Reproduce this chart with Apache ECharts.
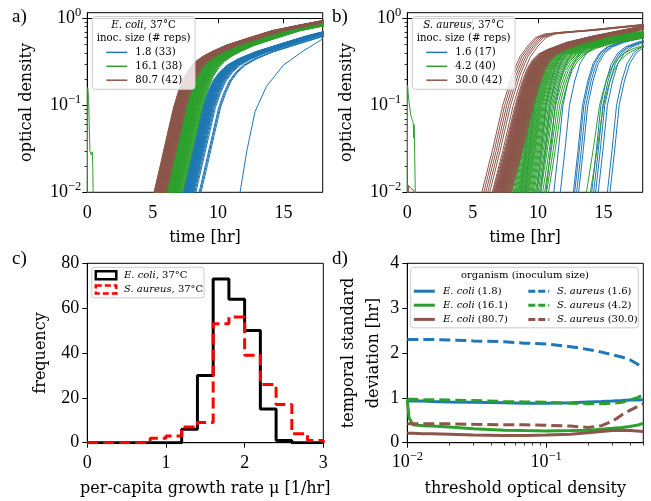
<!DOCTYPE html>
<html><head><meta charset="utf-8">
<script src="https://cdn.jsdelivr.net/npm/echarts@6/dist/echarts.min.js"></script>
<style>html,body{margin:0;padding:0;background:#fff}#c{width:651px;height:501px}</style>
</head><body><div id="c"></div><script>
// ================= DATA =================
const timeTicks = [0, 5, 10, 15];
const odMajorTicks = [0.01, 0.1, 1];
const odMinorTicks = [0.02,0.03,0.04,0.05,0.06,0.07,0.08,0.09,0.2,0.3,0.4,0.5,0.6,0.7,0.8,0.9];
const thrMajorTicks = [0.01, 0.1];
const thrMinorTicks = [0.02,0.03,0.04,0.05,0.06,0.07,0.08,0.09,0.2,0.3,0.4,0.5];

// Panel a: E. coli growth curves. Start times (hr at which OD crosses 0.01) read per curve,
// and the curve shapes (hours after start, OD).
const ecoliShapeDt = [-0.46, 0, 0.5, 1.0, 1.5, 1.9, 2.3, 2.75, 3.2, 3.8, 4.5, 5.5, 7.0, 9.0, 11.0, 13.0];
const ecoliShapeOd = [0.005, 0.01, 0.021, 0.045, 0.095, 0.15, 0.21, 0.27, 0.32, 0.37, 0.42, 0.49, 0.58, 0.72, 0.83, 0.95];
const ecoliLowDt = [-0.46, 0, 0.5, 1.0, 1.5, 1.9, 2.3, 2.8, 3.4, 4.2, 5.5, 7.5, 9.5, 11.5];
const ecoliLowOd = [0.005, 0.01, 0.021, 0.045, 0.095, 0.14, 0.19, 0.24, 0.29, 0.34, 0.41, 0.51, 0.63, 0.75];
const ecoliLowStarts = [7.30,7.34,7.38,7.42,7.45,7.48,7.50,7.53,7.56,7.58,7.60,7.63,7.66,7.68,7.70,7.73,7.76,7.80,7.83,7.86,7.90,7.94,7.98,8.02,8.06,8.10,8.15,8.22,8.30,8.55,8.62,8.70];
const ecoliLowOutlier = [[11.2,0.005],[11.68,0.01],[12.2,0.03],[12.83,0.085],[13.7,0.165],[15.0,0.29],[16.5,0.42],[18.0,0.58]];
const ecoliMidStarts = [6.00,6.04,6.08,6.11,6.14,6.17,6.20,6.23,6.26,6.29,6.32,6.35,6.38,6.41,6.44,6.47,6.50,6.53,6.56,6.59,6.62,6.65,6.68,6.71,6.74,6.77,6.80,6.84,6.88,6.92,6.96,7.00,7.04,7.08,7.12,7.18,7.24,7.30];
const ecoliMidSpike = [[0,0.005],[0.03,0.16],[0.1,0.12],[0.15,0.06],[0.2,0.03],[0.3,0.027],[0.38,0.029],[0.42,0.02],[0.47,0.005]];
const ecoliHighStarts = [5.10,5.13,5.16,5.18,5.20,5.22,5.24,5.26,5.28,5.30,5.32,5.34,5.36,5.38,5.40,5.42,5.44,5.46,5.48,5.50,5.52,5.54,5.56,5.58,5.60,5.62,5.64,5.66,5.68,5.70,5.72,5.74,5.76,5.78,5.80,5.83,5.86,5.89,5.92,5.96,6.00,6.05];

// Panel b: S. aureus growth curves
const saureusLowDt = [-0.3, 0, 0.35, 0.7, 1.1, 1.5, 2.0, 2.6, 3.5, 5.0, 9.0];
const saureusLowOd = [0.005, 0.01, 0.03, 0.1, 0.19, 0.30, 0.40, 0.47, 0.53, 0.60, 0.70];
const saureusLowStarts = [8.70,9.00,9.90,10.20,10.60,11.20,11.70,12.70,12.80,12.95,13.10,14.10,14.25,14.40,14.60,15.30,15.50];
const saureusLowSpike = [[0,0.005],[0.05,0.012],[0.15,0.005]];
const saureusMidDt = [-0.3, 0, 0.5, 1.0, 1.4, 1.8, 2.2, 2.8, 3.6, 5.0, 7.5, 10.0];
const saureusMidOd = [0.005, 0.01, 0.03, 0.1, 0.17, 0.25, 0.32, 0.39, 0.45, 0.52, 0.60, 0.70];
const saureusMidStarts = [7.60,7.75,7.90,8.00,8.10,8.18,8.25,8.32,8.40,8.46,8.52,8.58,8.64,8.70,8.76,8.82,8.88,8.94,9.00,9.06,9.12,9.18,9.24,9.30,9.38,9.46,9.54,9.62,9.70,9.80,9.90,10.00,10.10,10.20,10.35,10.50,10.65,10.80,13.70,14.00];
const saureusMidSpike = [[0,0.005],[0.02,0.17],[0.1,0.12],[0.26,0.078],[0.35,0.07],[0.45,0.063],[0.5,0.042],[0.52,0.06],[0.55,0.04],[0.64,0.005]];
const saureusHighDt = [-0.5, 0, 0.85, 1.7, 2.2, 2.6, 3.0, 3.5, 4.2, 5.5, 7.5, 11.5];
const saureusHighOd = [0.005, 0.01, 0.03, 0.1, 0.18, 0.26, 0.33, 0.39, 0.44, 0.52, 0.62, 0.82];
const saureusHighStarts = [6.55,6.62,6.68,6.72,6.76,6.80,6.84,6.88,6.92,6.95,6.98,7.01,7.04,7.07,7.10,7.13,7.16,7.19,7.22,7.25,7.28,7.31,7.34,7.37,7.40,7.44,7.48,7.52,7.56,7.60,7.65,7.70,7.75,7.80,7.88,7.95];
const saureusHighTopDt = [-0.5, 0, 0.8, 1.6, 2.3, 2.9, 3.5, 4.1, 4.8, 6.0, 8.0, 12.3];
const saureusHighTopOd = [0.005, 0.01, 0.03, 0.1, 0.22, 0.36, 0.48, 0.60, 0.66, 0.69, 0.73, 0.85];
const saureusHighTopStarts = [5.70, 5.85, 6.00, 6.15, 6.30, 6.50];
const saureusHighSpike = [[0,0.005],[0.1,0.012],[0.3,0.011],[0.5,0.0105],[0.6,0.005]];

// Panel c: histograms of per-capita growth rate
const histEdges = [0,0.2,0.4,0.6,0.8,1.0,1.2,1.4,1.6,1.8,2.0,2.2,2.4,2.6,2.8,3.0];
const ecoliCounts   = [0,0,0,0,0,0,6,30,73,64,50,15,1,0,0];
const saureusCounts = [0,0,0,0,2,3,7,9,53,56,39,26,17,4,1];

// Panel d: temporal standard deviation vs threshold OD
const dThresholds = [0.01,0.0103,0.011,0.013,0.015,0.02,0.03,0.05,0.07,0.1,0.15,0.2,0.25,0.3,0.35,0.4,0.45,0.5];
const ecoli18Sd    = [0.93,0.93,0.93,0.93,0.92,0.91,0.90,0.89,0.88,0.88,0.89,0.91,0.92,0.93,0.94,0.95,0.95,0.96];
const ecoli161Sd   = [0.95,0.55,0.40,0.38,0.37,0.35,0.31,0.28,0.27,0.26,0.27,0.28,0.30,0.32,0.34,0.36,0.39,0.43];
const ecoli807Sd   = [0.21,0.21,0.21,0.20,0.20,0.19,0.17,0.16,0.16,0.17,0.19,0.22,0.25,0.27,0.28,0.27,0.26,0.25];
const saureus16Sd  = [2.30,2.30,2.30,2.30,2.30,2.29,2.27,2.25,2.22,2.20,2.14,2.08,2.02,1.96,1.91,1.85,1.76,1.66];
const saureus42Sd  = [0.97,0.97,0.97,0.96,0.96,0.95,0.94,0.92,0.91,0.90,0.88,0.87,0.87,0.88,0.90,0.95,1.00,1.07];
const saureus300Sd = [0.42,0.42,0.42,0.42,0.42,0.42,0.41,0.40,0.40,0.39,0.37,0.34,0.38,0.48,0.62,0.72,0.80,0.87];

// Text
const panelLabels = ['a)','b)','c)','d)'];
const ecoliLegendTitle = ['{i|E. coli}, 37°C', 'inoc. size (# reps)'];
const ecoliLegendLabels = ['1.8 (33)', '16.1 (38)', '80.7 (42)'];
const saureusLegendTitle = ['{i|S. aureus}, 37°C', 'inoc. size (# reps)'];
const saureusLegendLabels = ['1.6 (17)', '4.2 (40)', '30.0 (42)'];
const histLegendLabels = ['{i|E. coli}, 37°C', '{i|S. aureus}, 37°C'];
const dLegendTitle = 'organism (inoculum size)';
const dLegendLabels = ['{i|E. coli} (1.8)','{i|E. coli} (16.1)','{i|E. coli} (80.7)','{i|S. aureus} (1.6)','{i|S. aureus} (4.2)','{i|S. aureus} (30.0)'];

// ================= STYLE / BUILD =================
const BLUE='#1f77b4', GREEN='#2ca02c', BROWN='#8c564b';
const TF = 'Liberation Serif';
const LF = 'DejaVu Serif';
const series = [];

function curves(starts, dts, ods, xi, yi, color, name) {
  starts.forEach(t0 => {
    series.push({type:'line', name, xAxisIndex:xi, yAxisIndex:yi,
      data: dts.map((d,k)=>[+(t0+d).toFixed(3), ods[k]]),
      symbol:'none', silent:true, clip:true, z:2,
      lineStyle:{width:1, color}, itemStyle:{color}});
  });
}
function single(data, xi, yi, color, name, width, dash) {
  series.push({type:'line', name, xAxisIndex:xi, yAxisIndex:yi, data,
    symbol:'none', silent:true, clip:true, z:3,
    lineStyle:{width:width||1, color, type: dash||'solid'}, itemStyle:{color}});
}
const XA=0, XB=1, XC=2, XD=3;
const YA=0, YB=3, YC=6, YD=7;
// panel a
curves(ecoliLowStarts, ecoliLowDt, ecoliLowOd, XA, YA, BLUE, ecoliLegendLabels[0]);
single(ecoliLowOutlier, XA, YA, BLUE, ecoliLegendLabels[0]);
curves(ecoliMidStarts, ecoliShapeDt, ecoliShapeOd, XA, YA, GREEN, ecoliLegendLabels[1]);
single(ecoliMidSpike, XA, YA, GREEN, ecoliLegendLabels[1]);
curves(ecoliHighStarts, ecoliShapeDt, ecoliShapeOd, XA, YA, BROWN, ecoliLegendLabels[2]);
// panel b
curves(saureusLowStarts, saureusLowDt, saureusLowOd, XB, YB, BLUE, saureusLegendLabels[0]);
single(saureusLowSpike, XB, YB, BLUE, saureusLegendLabels[0]);
curves(saureusMidStarts, saureusMidDt, saureusMidOd, XB, YB, GREEN, saureusLegendLabels[1]);
single(saureusMidSpike, XB, YB, GREEN, saureusLegendLabels[1]);
curves(saureusHighTopStarts, saureusHighTopDt, saureusHighTopOd, XB, YB, BROWN, saureusLegendLabels[2]);
curves(saureusHighStarts, saureusHighDt, saureusHighOd, XB, YB, BROWN, saureusLegendLabels[2]);
single(saureusHighSpike, XB, YB, BROWN, saureusLegendLabels[2]);
// panel c
function stepData(edges, counts) {
  const pts = [[edges[0], 0]];
  counts.forEach((c,i) => { pts.push([edges[i], c]); pts.push([edges[i+1], c]); });
  pts.push([edges[edges.length-1], 0]);
  return pts;
}
single(stepData(histEdges, ecoliCounts), XC, YC, '#000', 'E. coli', 3);
single(stepData(histEdges, saureusCounts), XC, YC, '#ff0000', 'S. aureus', 3, [11,5]);
// panel d
const dSets = [[ecoli18Sd,BLUE,'solid'],[ecoli161Sd,GREEN,'solid'],[ecoli807Sd,BROWN,'solid'],
               [saureus16Sd,BLUE,[11,5]],[saureus42Sd,GREEN,[11,5]],[saureus300Sd,BROWN,[11,5]]];
dSets.forEach((s,i) => single(dThresholds.map((t,k)=>[t, s[0][k]]), XD, YD, s[1], dLegendLabels[i], 3, s[2]));

// axes
const axLine = {show:true, lineStyle:{color:'#000', width:1}};
const axTick = {show:true, inside:false, length:5, lineStyle:{color:'#000', width:1}};
const labY = {color:'#000', fontFamily:TF, fontSize:18, margin:8};
const labX = {color:'#000', fontFamily:TF, fontSize:18, margin:12};
const nameStyle = {color:'#000', fontFamily:LF, fontSize:16};
function powLabel(v) {
  const l = Math.log10(v), e = Math.round(l);
  if (Math.abs(l - e) > 1e-6) return '';
  return '10{s|' + (e < 0 ? '−' : '') + Math.abs(e) + '}';
}
const supRich = {s:{fontSize:12.5, fontFamily:TF, color:'#000', verticalAlign:'top', lineHeight:13}};
function timeX(gi) {
  return {type:'value', gridIndex:gi, min:0, max:18, interval:5,
    axisLine:axLine, splitLine:{show:false},
    axisTick:Object.assign({}, axTick, {customValues:timeTicks}),
    axisLabel:Object.assign({}, labX, {customValues:timeTicks}),
    name:'time [hr]', nameLocation:'middle', nameGap:38, nameTextStyle:nameStyle};
}
function odY(gi) {
  return {type:'log', gridIndex:gi, min:0.01, max:1.16, logBase:10, position:'left',
    axisLine:axLine, splitLine:{show:false}, axisTick:{show:false},
    axisLabel:Object.assign({}, labY, {margin:6, formatter:powLabel, rich:supRich, lineHeight:24}),
    name:'optical density', nameLocation:'middle', nameGap:52, nameTextStyle:nameStyle};
}
// tick helper axes: linear in log10 units, aligned with the log axis extent
function tickHelper(gi, min, max, ticks, len, pos) {
  return {type:'value', gridIndex:gi, min:Math.log10(min), max:Math.log10(max), position:pos,
    axisLine:{show:false}, splitLine:{show:false}, axisLabel:{show:false},
    axisTick:{show:true, inside:false, length:len, customValues:ticks.map(v=>Math.log10(v)),
      lineStyle:{color:'#000', width:len > 4 ? 1 : 0.8}}};
}

const grids = [
  {left:87.3, top:12.7, width:235.4, height:179.6},
  {left:407.3, top:12.7, width:235.4, height:179.6},
  {left:87.3, top:263.3, width:236, height:179.4},
  {left:407.3, top:263.3, width:236, height:179.4}
].map(g => Object.assign(g, {show:true, borderColor:'#000', borderWidth:1, backgroundColor:'transparent'}));

const xAxis = [
  timeX(0), timeX(1),
  {type:'value', gridIndex:2, min:0, max:3, interval:1, axisLine:axLine, axisTick:axTick,
   splitLine:{show:false}, axisLabel:labX,
   name:'per-capita growth rate μ [1/hr]', nameLocation:'middle', nameGap:38, nameTextStyle:nameStyle},
  {type:'log', gridIndex:3, min:0.01, max:0.5, logBase:10, axisLine:axLine, axisTick:{show:false},
   splitLine:{show:false}, axisLabel:Object.assign({}, labX, {margin:8, formatter:powLabel, rich:supRich, lineHeight:24}),
   name:'threshold optical density', nameLocation:'middle', nameGap:38, nameTextStyle:nameStyle},
  tickHelper(3, 0.01, 0.5, thrMajorTicks, 5, 'bottom'),
  tickHelper(3, 0.01, 0.5, thrMinorTicks, 2.8, 'bottom')
];
const yAxis = [
  odY(0), tickHelper(0, 0.01, 1.16, odMajorTicks, 5, 'left'), tickHelper(0, 0.01, 1.16, odMinorTicks, 2.8, 'left'),
  odY(1), tickHelper(1, 0.01, 1.16, odMajorTicks, 5, 'left'), tickHelper(1, 0.01, 1.16, odMinorTicks, 2.8, 'left'),
  {type:'value', gridIndex:2, min:0, max:80, interval:20, axisLine:axLine, axisTick:axTick,
   splitLine:{show:false}, axisLabel:labY,
   name:'frequency', nameLocation:'middle', nameGap:38, nameTextStyle:nameStyle},
  {type:'value', gridIndex:3, min:0, max:4, interval:1, axisLine:axLine, axisTick:axTick,
   splitLine:{show:false}, axisLabel:labY,
   name:'temporal standard\ndeviation [hr]', nameLocation:'middle', nameGap:16,
   nameTextStyle:Object.assign({}, nameStyle, {lineHeight:25})}
];

// graphic: panel labels and legends
const G = [];
function txt(x, y, text, size, align, family) {
  G.push({type:'text', x, y, z:102, silent:true,
    style:{text, fill:'#000', fontFamily:family||LF, fontSize:size||10,
      align:align||'left', verticalAlign:'middle', textAlign:align||'left', textVerticalAlign:'middle',
      rich:{i:{fontStyle:'italic', fontFamily:family||LF, fontSize:size||10, fill:'#000'}}}});
}
function box(x, y, w, h) {
  G.push({type:'rect', z:100, silent:true, shape:{x, y, width:w, height:h, r:3},
    style:{fill:'rgba(255,255,255,0.8)', stroke:'#cccccc', lineWidth:1}});
}
function hline(x1, x2, y, color, w, dash) {
  G.push({type:'line', z:101, silent:true, shape:{x1, y1:y, x2, y2:y},
    style:{stroke:color, lineWidth:w, lineDash:dash||null}});
}
[[12,17],[332,17],[12,259],[332,259]].forEach((p,i)=>txt(p[0], p[1], panelLabels[i], 19, 'left', TF));

// legend a / b
const abCols = [BLUE, GREEN, BROWN];
[[92.3, ecoliLegendTitle, ecoliLegendLabels],[412.3, saureusLegendTitle, saureusLegendLabels]].forEach(L => {
  const x0 = L[0];
  box(x0, 16.5, 102.7, 72.8);
  txt(x0+51.3, 25.3, L[1][0], 10.2, 'center');
  txt(x0+51.3, 38.6, L[1][1], 10.2, 'center');
  [52.4, 66.3, 80.2].forEach((y,k) => {
    hline(x0+14, x0+35, y, abCols[k], 1.5);
    txt(x0+43, y, L[2][k], 10.2, 'left');
  });
});
// legend c
box(91.7, 267.3, 112.3, 30.6);
G.push({type:'rect', z:101, silent:true, shape:{x:95.8, y:271.2, width:20.5, height:8},
  style:{fill:'none', stroke:'#000', lineWidth:2.5}});
G.push({type:'rect', z:101, silent:true, shape:{x:95.8, y:285.4, width:20.5, height:8},
  style:{fill:'none', stroke:'#ff0000', lineWidth:2.5, lineDash:[6,3]}});
txt(124, 275.3, histLegendLabels[0], 10, 'left');
txt(124, 289.5, histLegendLabels[1], 10, 'left');
// legend d
box(410.7, 267.3, 227.6, 60.5);
txt(525, 275.6, dLegendTitle, 10, 'center');
const dRows = [291.2, 305.2, 319.4];
dSets.forEach((s,i) => {
  const col = i < 3 ? 0 : 1, row = i % 3;
  const hx = col === 0 ? 413.8 : 528.3;
  const tx = col === 0 ? 443 : 557;
  hline(hx, hx+21, dRows[row], s[1], 3, s[2] === 'solid' ? null : [7,3]);
  txt(tx, dRows[row], dLegendLabels[i], 10, 'left');
});

const chart = echarts.init(document.getElementById('c'), null, {renderer:'canvas'});
chart.setOption({
  animation:false, backgroundColor:'#fff',
  grid:grids, xAxis, yAxis, series,
  graphic:{elements:G}
});
</script></body></html>
